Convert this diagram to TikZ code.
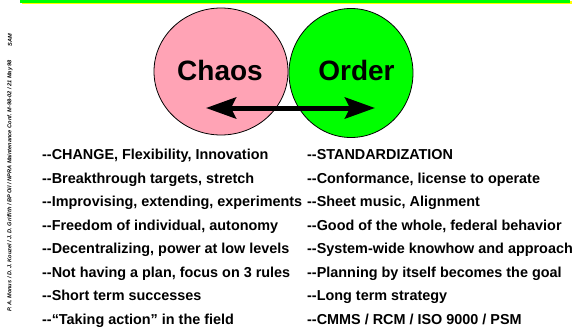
\documentclass[tikz,border=0pt]{standalone}
\usepackage{fontspec}
\setmainfont{Liberation Sans}
\usetikzlibrary{shapes.geometric,arrows.meta}
\definecolor{chaospink}{RGB}{255,163,181}
\definecolor{ordergreen}{RGB}{0,255,0}
\definecolor{baryellow}{RGB}{255,255,0}
\tikzset{
  bigcircle/.style={ellipse, draw=black, line width=0.8pt, inner sep=0pt},
  bigword/.style={font=\fontsize{28}{30}\selectfont\bfseries, anchor=base, inner sep=0pt},
  item/.style={font=\fontsize{14.4}{16}\selectfont\bfseries, anchor=base west, inner sep=0pt},
  sidenote/.style={font=\fontsize{5.6}{6}\selectfont\bfseries\itshape, rotate=90, inner sep=0pt},
  bigarrow/.style={line width=5pt, {Stealth[length=30pt,width=21pt,inset=5pt]}-{Stealth[length=30pt,width=21pt,inset=5pt]}}
}
\begin{document}
\begin{tikzpicture}[x=1pt,y=1pt]
\useasboundingbox (0,0) rectangle (574,-327);
% top bar
\fill[baryellow] (22,-0.5) rectangle (572,-4.2);
\fill[ordergreen] (20,0) rectangle (570,-2.6);
% circles
\node[bigcircle, fill=chaospink, minimum width=134pt, minimum height=127pt] (chaos) at (221,-71.5) {};
\node[bigcircle, fill=ordergreen, minimum width=124pt, minimum height=129pt] (order) at (351,-73) {};
\node[bigword] (chaosw) at (220,-80) {Chaos};
\node[bigword] (orderw) at (356.5,-80) {Order};
% arrow
\coordinate (aL) at (206,-108);
\coordinate (aR) at (375,-108);
\draw[bigarrow] (aL) -- (aR);
% left column
\node[item] (l1) at (42,-159.5) {-{}-CHANGE, Flexibility, Innovation};
\node[item] (l2) at (42,-183) {-{}-Breakthrough targets, stretch};
\node[item] (l3) at (42,-206.5) {-{}-Improvising, extending, experiments};
\node[item] (l4) at (42,-230) {-{}-Freedom of individual, autonomy};
\node[item] (l5) at (42,-253.5) {-{}-Decentralizing, power at low levels};
\node[item] (l6) at (42,-277) {-{}-Not having a plan, focus on 3 rules};
\node[item] (l7) at (42,-300.5) {-{}-Short term successes};
\node[item] (l8) at (42,-324) {-{}-“Taking action” in the field};
% right column
\node[item] (r1) at (307,-159.5) {-{}-STANDARDIZATION};
\node[item] (r2) at (307,-183) {-{}-Conformance, license to operate};
\node[item] (r3) at (307,-206.5) {-{}-Sheet music, Alignment};
\node[item] (r4) at (307,-230) {-{}-Good of the whole, federal behavior};
\node[item] (r5) at (307,-253.5) {-{}-System-wide knowhow and approach};
\node[item] (r6) at (307,-277) {-{}-Planning by itself becomes the goal};
\node[item] (r7) at (307,-300.5) {-{}-Long term strategy};
\node[item] (r8) at (307,-324) {-{}-CMMS / RCM / ISO 9000 / PSM};
% side note
\node[sidenote, anchor=west] (side) at (10,-312) {P. A. Monus / D. J. Kouzel / J. D. Griffith / BP Oil / NPRA Maintenance Conf. M-98-02 / 21 May 98};
\node[sidenote] (sam) at (10,-40) {SAM};
\end{tikzpicture}
\end{document}
